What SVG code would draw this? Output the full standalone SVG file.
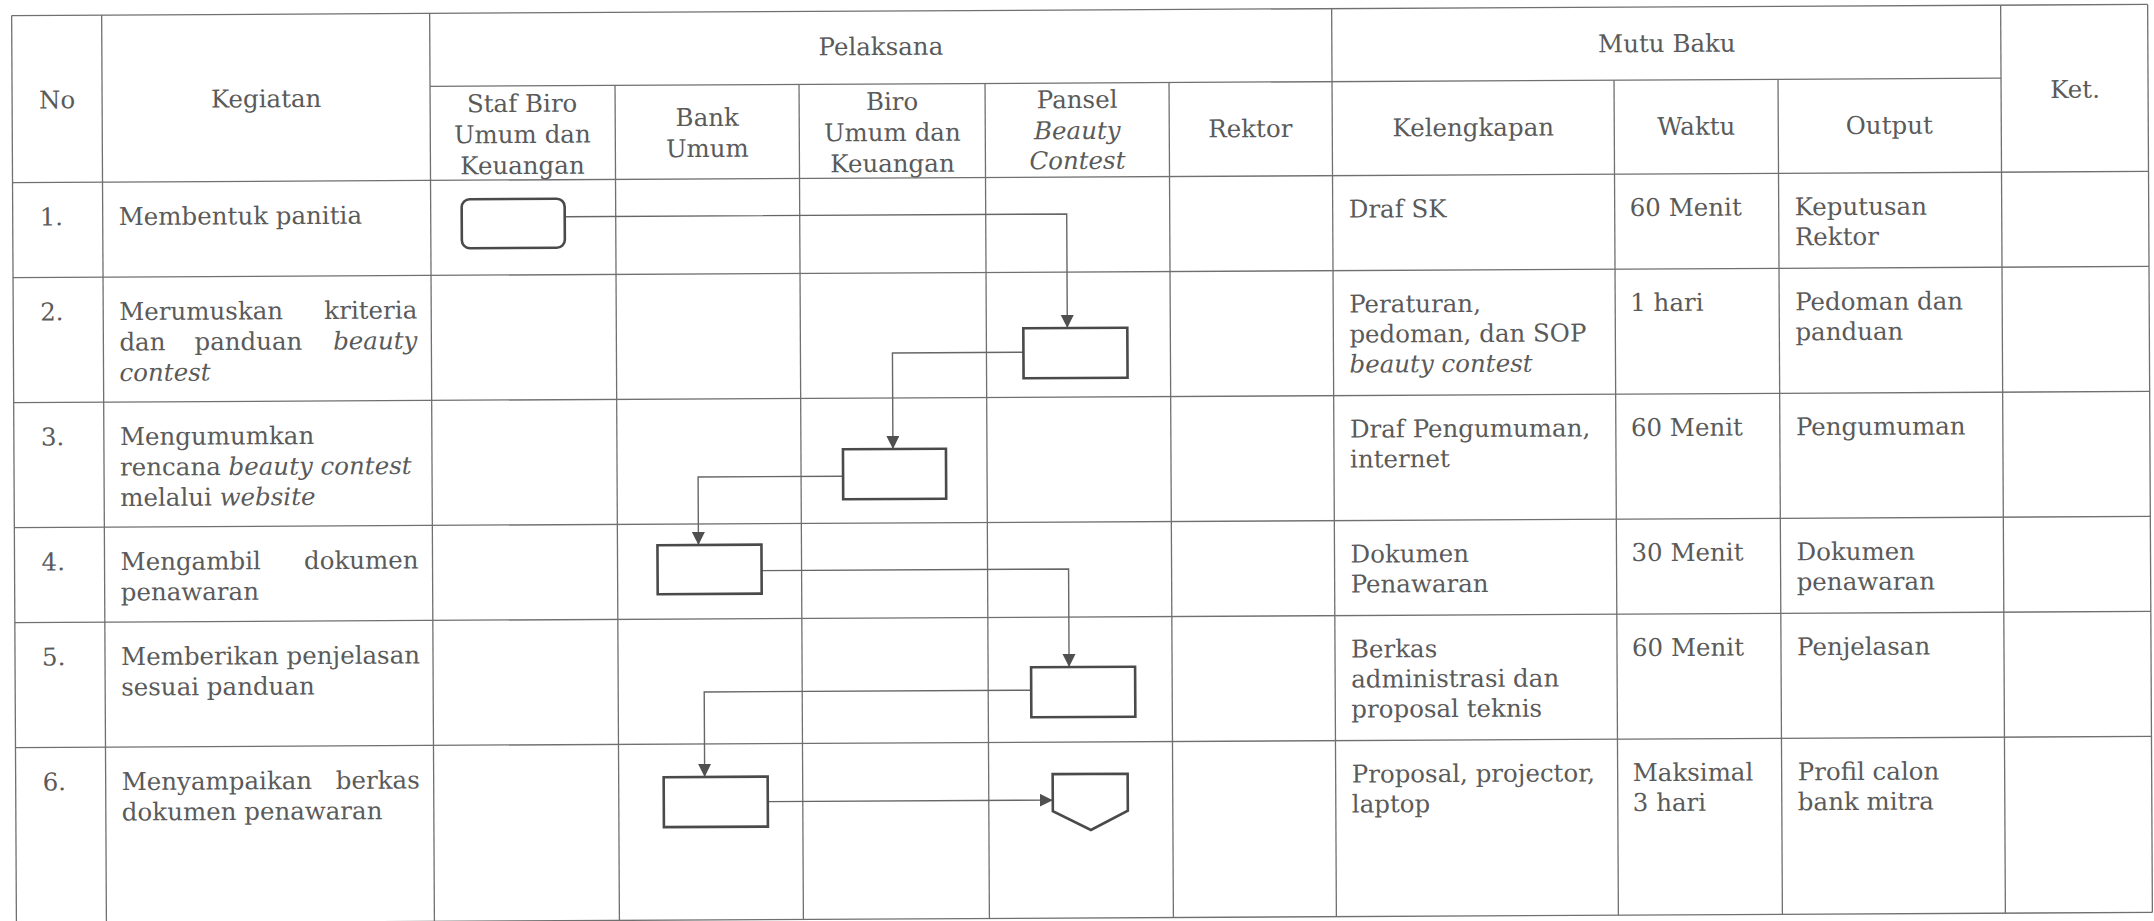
<svg xmlns="http://www.w3.org/2000/svg" width="2154" height="921" viewBox="0 0 2154 921">
<style>
  .grid line { stroke:#707070; stroke-width:1.3; }
  text { font-family:"DejaVu Serif","Liberation Serif",serif; font-size:24.5px; fill:#5a5a5a; }
  .c { text-anchor:middle; }
  .e { text-anchor:end; }
  .i { font-style:italic; }
  .box { fill:#fff; stroke:#4a4a4a; stroke-width:2.6; }
  .conn path { fill:none; stroke:#666; stroke-width:1.4; }
</style>
<defs>
  <marker id="ah" markerUnits="userSpaceOnUse" markerWidth="14" markerHeight="14" refX="13" refY="6.5" orient="auto">
    <path d="M0,0 L13,6.5 L0,13 Z" fill="#505050"/>
  </marker>
</defs>
<rect x="0" y="0" width="2154" height="921" fill="#fff"/>
<g transform="rotate(-0.3 1077 460)">
  <g id="table" class="grid">
    <line x1="14" y1="10" x2="2150" y2="10"/>
    <line x1="432" y1="83" x2="2003" y2="83"/>
    <line x1="14" y1="177" x2="2150" y2="177"/>
    <line x1="14" y1="272" x2="2150" y2="272"/>
    <line x1="14" y1="397" x2="2150" y2="397"/>
    <line x1="14" y1="522" x2="2150" y2="522"/>
    <line x1="14" y1="617" x2="2150" y2="617"/>
    <line x1="14" y1="742" x2="2150" y2="742"/>
    <line x1="14" y1="918" x2="2150" y2="918"/>
    <line x1="14" y1="10" x2="14" y2="918"/>
    <line x1="104" y1="10" x2="104" y2="918"/>
    <line x1="432" y1="10" x2="432" y2="918"/>
    <line x1="617" y1="83" x2="617" y2="918"/>
    <line x1="801" y1="83" x2="801" y2="918"/>
    <line x1="987" y1="83" x2="987" y2="918"/>
    <line x1="1171" y1="83" x2="1171" y2="918"/>
    <line x1="1334" y1="10" x2="1334" y2="918"/>
    <line x1="1616" y1="83" x2="1616" y2="918"/>
    <line x1="1780" y1="83" x2="1780" y2="918"/>
    <line x1="2003" y1="10" x2="2003" y2="918"/>
    <line x1="2150" y1="10" x2="2150" y2="918"/>
  </g>
  <g id="header">
    <text class="c" x="59" y="103">No</text>
    <text class="c" x="268" y="103">Kegiatan</text>
    <text class="c" x="883" y="54">Pelaksana</text>
    <text class="c" x="1669" y="55">Mutu Baku</text>
    <text class="c" x="2077" y="103">Ket.</text>
    <text class="c" x="524" y="109">Staf Biro</text>
    <text class="c" x="524" y="140">Umum dan</text>
    <text class="c" x="524" y="171">Keuangan</text>
    <text class="c" x="709" y="124">Bank</text>
    <text class="c" x="709" y="155">Umum</text>
    <text class="c" x="894" y="109">Biro</text>
    <text class="c" x="894" y="140">Umum dan</text>
    <text class="c" x="894" y="171">Keuangan</text>
    <text class="c" x="1079" y="108">Pansel</text>
    <text class="c i" x="1079" y="139">Beauty</text>
    <text class="c i" x="1079" y="169">Contest</text>
    <text class="c" x="1252" y="138">Rektor</text>
    <text class="c" x="1475" y="138">Kelengkapan</text>
    <text class="c" x="1698" y="138">Waktu</text>
    <text class="c" x="1891" y="138">Output</text>
  </g>
  <g id="rows">
    <text x="41" y="220">1.</text>
    <text x="120" y="220">Membentuk panitia</text>
    <text x="1350" y="219">Draf SK</text>
    <text x="1631" y="219">60 Menit</text>
    <text x="1796" y="219">Keputusan</text>
    <text x="1796" y="249">Rektor</text>

    <text x="41" y="315">2.</text>
    <text x="120" y="315">Merumuskan</text>
    <text class="e" x="418" y="315">kriteria</text>
    <text x="120" y="345.5">dan</text>
    <text class="c" x="249" y="345.5">panduan</text>
    <text class="e i" x="418" y="345.5">beauty</text>
    <text class="i" x="120" y="376">contest</text>
    <text x="1350" y="314">Peraturan,</text>
    <text x="1350" y="344">pedoman, dan SOP</text>
    <text class="i" x="1350" y="374">beauty contest</text>
    <text x="1631" y="314">1 hari</text>
    <text x="1796" y="314">Pedoman dan</text>
    <text x="1796" y="344">panduan</text>

    <text x="41" y="440">3.</text>
    <text x="120" y="440">Mengumumkan</text>
    <text x="120" y="470.5">rencana <tspan class="i">beauty contest</tspan></text>
    <text x="120" y="501">melalui <tspan class="i">website</tspan></text>
    <text x="1350" y="439">Draf Pengumuman,</text>
    <text x="1350" y="469">internet</text>
    <text x="1631" y="439">60 Menit</text>
    <text x="1796" y="439">Pengumuman</text>

    <text x="41" y="565">4.</text>
    <text x="120" y="565">Mengambil</text>
    <text class="e" x="418" y="565">dokumen</text>
    <text x="120" y="595.5">penawaran</text>
    <text x="1350" y="564">Dokumen</text>
    <text x="1350" y="594">Penawaran</text>
    <text x="1631" y="564">30 Menit</text>
    <text x="1796" y="564">Dokumen</text>
    <text x="1796" y="594">penawaran</text>

    <text x="41" y="660">5.</text>
    <text x="120" y="660">Memberikan penjelasan</text>
    <text x="120" y="690.5">sesuai panduan</text>
    <text x="1350" y="659">Berkas</text>
    <text x="1350" y="689">administrasi dan</text>
    <text x="1350" y="719">proposal teknis</text>
    <text x="1631" y="659">60 Menit</text>
    <text x="1796" y="659">Penjelasan</text>

    <text x="41" y="785">6.</text>
    <text x="120" y="785">Menyampaikan</text>
    <text class="e" x="418" y="785">berkas</text>
    <text x="120" y="815.5">dokumen penawaran</text>
    <text x="1350" y="784">Proposal, projector,</text>
    <text x="1350" y="814">laptop</text>
    <text x="1631" y="784">Maksimal</text>
    <text x="1631" y="814">3 hari</text>
    <text x="1796" y="784">Profil calon</text>
    <text x="1796" y="814">bank mitra</text>
  </g>
  <g id="connectors" class="conn">
    <path d="M566,214 H1068 V328" marker-end="url(#ah)"/>
    <path d="M1024,352 H893 V448" marker-end="url(#ah)"/>
    <path d="M843,475 H698 V543" marker-end="url(#ah)"/>
    <path d="M761,569 H1068 V667" marker-end="url(#ah)"/>
    <path d="M1030,690 H703 V775" marker-end="url(#ah)"/>
    <path d="M766,800 H1051" marker-end="url(#ah)"/>
  </g>
  <g id="node1"><rect class="box" x="463" y="196" width="103" height="49" rx="8"/></g>
  <g id="node2"><rect class="box" x="1024" y="328" width="104" height="50"/></g>
  <g id="node3"><rect class="box" x="843" y="448" width="103" height="50"/></g>
  <g id="node4"><rect class="box" x="657" y="543" width="104" height="49"/></g>
  <g id="node5"><rect class="box" x="1030" y="667" width="104" height="50"/></g>
  <g id="node6"><rect class="box" x="662" y="775" width="104" height="50"/></g>
  <g id="node7"><polygon class="box" points="1051,774 1126,774 1126,811 1089,830 1051,811"/></g>
</g>
</svg>
